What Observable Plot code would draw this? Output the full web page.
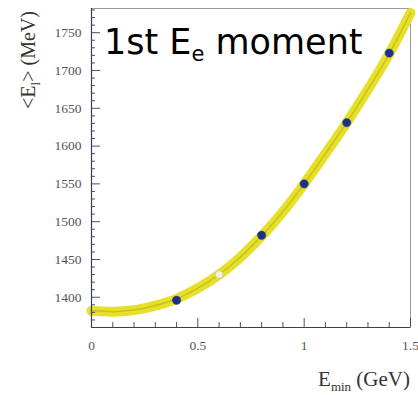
<!DOCTYPE html>
<html>
<head>
<meta charset="utf-8">
<script src="https://cdn.jsdelivr.net/npm/d3@7"></script>
<script src="https://cdn.jsdelivr.net/npm/@observablehq/plot@0.6"></script>
<style>
  html, body { margin: 0; padding: 0; background: #fff; }
  #chart svg { display: block; }
</style>
</head>
<body>
<div id="chart"></div>
<script>
// Fit curve for the first lepton-energy moment vs. the minimum energy cut
const fitEmin = [0, 0.1, 0.2, 0.3, 0.4, 0.5, 0.6, 0.7, 0.8, 0.9, 1.0, 1.1, 1.2, 1.3, 1.4, 1.5];
const fitMoment = [1382, 1381, 1383, 1389, 1398, 1412, 1430, 1453, 1481, 1513, 1550, 1590, 1631, 1675, 1722, 1776];

// Measured moments (solid) and the one shown as an open marker
const measEmin = [0.4, 0.8, 1.0, 1.2, 1.4];
const measMoment = [1396, 1482, 1550, 1631, 1723];
const openEmin = [0.6];
const openMoment = [1430];

const xMajor = [0, 0.5, 1, 1.5];
const xMinor = [0.1, 0.2, 0.3, 0.4, 0.6, 0.7, 0.8, 0.9, 1.1, 1.2, 1.3, 1.4];
const yMajor = [1400, 1450, 1500, 1550, 1600, 1650, 1700, 1750];
const yMinor = d3.range(1370, 1781, 10).filter(v => v % 50 !== 0);

const fit = fitEmin.map((x, i) => ({x, y: fitMoment[i]}));
const meas = measEmin.map((x, i) => ({x, y: measMoment[i]}));
const open = openEmin.map((x, i) => ({x, y: openMoment[i]}));

const axisColor = "#3a3f55";
const tickColor = "#4a4f78";
const labelFont = "Liberation Serif";

const chart = Plot.plot({
  width: 418,
  height: 395,
  marginLeft: 91,
  marginRight: 8,
  marginTop: 8,
  marginBottom: 68,
  style: {fontFamily: labelFont, background: "#fff"},
  x: {domain: [0, 1.5], label: null},
  y: {domain: [1360, 1782], label: null},
  marks: [
    Plot.frame({stroke: "#9a9a9a", strokeWidth: 1}),
    // fit band and its central line
    Plot.line(fit, {x: "x", y: "y", stroke: "#e7e02a", strokeWidth: 10, curve: "natural"}),
    Plot.line(fit, {x: "x", y: "y", stroke: "#c9c21c", strokeWidth: 1.5, curve: "natural"}),
    Plot.dot(open, {x: "x", y: "y", r: 4, fill: "#f6f4cf", stroke: "#c8c8b0", strokeWidth: 1}),
    Plot.dot(meas, {x: "x", y: "y", r: 4.2, fill: "#1c2f8c", stroke: "#2a3c9a", strokeWidth: 0.5}),
    // inward ticks on the bottom and left axes
    Plot.axisX(xMajor, {tickSize: -9, text: null, stroke: tickColor, label: null}),
    Plot.axisX(xMinor, {tickSize: -5, text: null, stroke: tickColor, label: null}),
    Plot.axisY(yMajor, {tickSize: -9, text: null, stroke: tickColor, label: null}),
    Plot.axisY(yMinor, {tickSize: -4, text: null, stroke: tickColor, label: null}),
    Plot.axisX(xMajor, {tickSize: 0, tickPadding: 13, fontSize: 13.5, fill: "#555", label: null,
      fontFamily: labelFont, tickFormat: d => String(d)}),
    Plot.axisY(yMajor, {tickSize: 0, tickPadding: 10, fontSize: 13.5, fill: "#555", label: null,
      fontFamily: labelFont, tickFormat: d => String(d)}),
    Plot.ruleX([0], {stroke: axisColor, strokeWidth: 1.2}),
    Plot.ruleY([1360], {stroke: axisColor, strokeWidth: 1.2})
  ]
});

const svg = d3.select(chart);

// Title inside the plot area
const title = svg.append("text")
  .attr("x", 104).attr("y", 54)
  .attr("text-anchor", "start")
  .attr("font-family", "DejaVu Sans")
  .attr("font-size", 35)
  .attr("fill", "#000");
title.append("tspan").text("1st E");
title.append("tspan").attr("font-size", 21).attr("dy", 7).text("e");
title.append("tspan").attr("dy", -7).text(" moment");

// y-axis label
const ylab = svg.append("text")
  .attr("transform", "translate(35,60) rotate(-90)")
  .attr("text-anchor", "middle")
  .attr("font-family", labelFont)
  .attr("font-size", 20)
  .attr("fill", "#333");
ylab.append("tspan").text("<E");
ylab.append("tspan").attr("font-size", 13).attr("dy", 5).text("l");
ylab.append("tspan").attr("dy", -5).text("> (MeV)");

// x-axis label
const xlab = svg.append("text")
  .attr("x", 410).attr("y", 386)
  .attr("text-anchor", "end")
  .attr("font-family", labelFont)
  .attr("font-size", 21)
  .attr("fill", "#333");
xlab.append("tspan").text("E");
xlab.append("tspan").attr("font-size", 13).attr("dy", 5).text("min");
xlab.append("tspan").attr("dy", -5).text(" (GeV)");

document.getElementById("chart").append(chart);
</script>
</body>
</html>
